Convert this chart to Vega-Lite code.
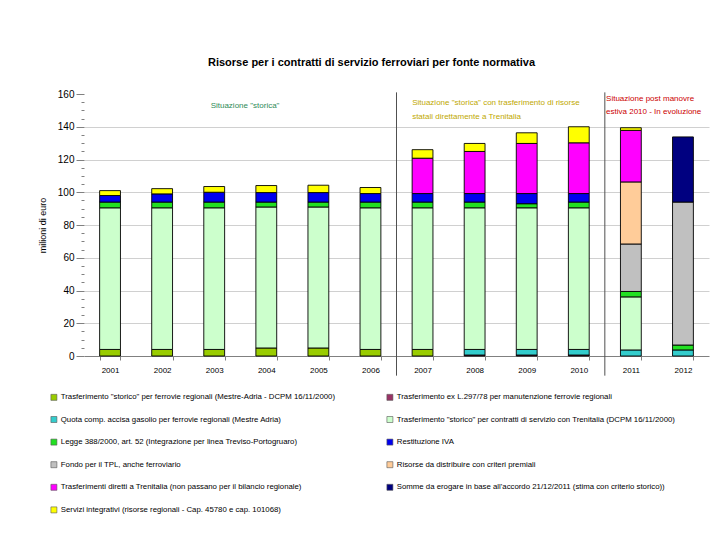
{
  "$schema": "https://vega.github.io/schema/vega-lite/v6.json",
  "autosize": "none",
  "width": 625,
  "height": 262,
  "padding": {"left": 84, "top": 94, "right": 11, "bottom": 184},
  "background": "white",
  "config": {
    "font": "Liberation Sans",
    "view": {"stroke": null}
  },
  "title": {
    "text": "Risorse per i contratti di servizio ferroviari per fonte normativa",
    "fontSize": 11,
    "fontWeight": "bold",
    "font": "Liberation Sans",
    "color": "black",
    "dx": -25,
    "offset": 21
  },
  "datasets": {
    "bars": [
      {"year": "2001", "serie": "s1", "value": 4},
      {"year": "2001", "serie": "s4", "value": 86.5},
      {"year": "2001", "serie": "s5", "value": 3.5},
      {"year": "2001", "serie": "s6", "value": 4},
      {"year": "2001", "serie": "s11", "value": 3},
      {"year": "2002", "serie": "s1", "value": 4},
      {"year": "2002", "serie": "s4", "value": 86.5},
      {"year": "2002", "serie": "s5", "value": 3.5},
      {"year": "2002", "serie": "s6", "value": 5},
      {"year": "2002", "serie": "s11", "value": 3.2},
      {"year": "2003", "serie": "s1", "value": 4},
      {"year": "2003", "serie": "s4", "value": 86.5},
      {"year": "2003", "serie": "s5", "value": 3.5},
      {"year": "2003", "serie": "s6", "value": 6},
      {"year": "2003", "serie": "s11", "value": 3.5},
      {"year": "2004", "serie": "s1", "value": 4.9},
      {"year": "2004", "serie": "s4", "value": 86.1},
      {"year": "2004", "serie": "s5", "value": 3},
      {"year": "2004", "serie": "s6", "value": 5.8},
      {"year": "2004", "serie": "s11", "value": 4.3},
      {"year": "2005", "serie": "s1", "value": 4.9},
      {"year": "2005", "serie": "s4", "value": 86.1},
      {"year": "2005", "serie": "s5", "value": 3},
      {"year": "2005", "serie": "s6", "value": 5.8},
      {"year": "2005", "serie": "s11", "value": 4.5},
      {"year": "2006", "serie": "s1", "value": 4},
      {"year": "2006", "serie": "s4", "value": 86.5},
      {"year": "2006", "serie": "s5", "value": 3.5},
      {"year": "2006", "serie": "s6", "value": 5.2},
      {"year": "2006", "serie": "s11", "value": 3.7},
      {"year": "2007", "serie": "s1", "value": 4},
      {"year": "2007", "serie": "s4", "value": 86.5},
      {"year": "2007", "serie": "s5", "value": 3.5},
      {"year": "2007", "serie": "s6", "value": 5.2},
      {"year": "2007", "serie": "s9", "value": 21.6},
      {"year": "2007", "serie": "s11", "value": 5.2},
      {"year": "2008", "serie": "s2", "value": 0.6},
      {"year": "2008", "serie": "s3", "value": 3.4},
      {"year": "2008", "serie": "s4", "value": 86.5},
      {"year": "2008", "serie": "s5", "value": 3.5},
      {"year": "2008", "serie": "s6", "value": 5.2},
      {"year": "2008", "serie": "s9", "value": 25.7},
      {"year": "2008", "serie": "s11", "value": 4.9},
      {"year": "2009", "serie": "s2", "value": 0.6},
      {"year": "2009", "serie": "s3", "value": 3.4},
      {"year": "2009", "serie": "s4", "value": 86.5},
      {"year": "2009", "serie": "s5", "value": 2.5},
      {"year": "2009", "serie": "s6", "value": 6.2},
      {"year": "2009", "serie": "s9", "value": 30.6},
      {"year": "2009", "serie": "s11", "value": 6.5},
      {"year": "2010", "serie": "s2", "value": 0.6},
      {"year": "2010", "serie": "s3", "value": 3.4},
      {"year": "2010", "serie": "s4", "value": 86.5},
      {"year": "2010", "serie": "s5", "value": 3.5},
      {"year": "2010", "serie": "s6", "value": 5.2},
      {"year": "2010", "serie": "s9", "value": 31},
      {"year": "2010", "serie": "s11", "value": 9.8},
      {"year": "2011", "serie": "s3", "value": 3.7},
      {"year": "2011", "serie": "s4", "value": 32.4},
      {"year": "2011", "serie": "s5", "value": 3.3},
      {"year": "2011", "serie": "s7", "value": 29},
      {"year": "2011", "serie": "s8", "value": 37.9},
      {"year": "2011", "serie": "s9", "value": 31.5},
      {"year": "2011", "serie": "s11", "value": 1.6},
      {"year": "2012", "serie": "s3", "value": 3.7},
      {"year": "2012", "serie": "s5", "value": 3},
      {"year": "2012", "serie": "s7", "value": 87.3},
      {"year": "2012", "serie": "s10", "value": 39.8}
    ],
    "labels": [
      {"serie": "s1", "rank": 1, "label": "Trasferimento \"storico\" per ferrovie regionali (Mestre-Adria - DCPM 16/11/2000)"},
      {"serie": "s2", "rank": 2, "label": "Trasferimento ex L.297/78 per manutenzione ferrovie regionali"},
      {"serie": "s3", "rank": 3, "label": "Quota comp. accisa gasolio per ferrovie regionali (Mestre Adria)"},
      {"serie": "s4", "rank": 4, "label": "Trasferimento \"storico\" per contratti di servizio con Trenitalia (DCPM 16/11/2000)"},
      {"serie": "s5", "rank": 5, "label": "Legge 388/2000, art. 52 (Integrazione per linea Treviso-Portogruaro)"},
      {"serie": "s6", "rank": 6, "label": "Restituzione IVA"},
      {"serie": "s7", "rank": 7, "label": "Fondo per il TPL, anche ferroviario"},
      {"serie": "s8", "rank": 8, "label": "Risorse da distribuire con criteri premiali"},
      {"serie": "s9", "rank": 9, "label": "Trasferimenti diretti a Trenitalia (non passano per il bilancio regionale)"},
      {"serie": "s10", "rank": 10, "label": "Somme da erogare in base all'accordo 21/12/2011 (stima con criterio storico))"},
      {"serie": "s11", "rank": 11, "label": "Servizi integrativi (risorse regionali - Cap. 45780 e cap. 101068)"}
    ]
  },
  "layer": [
    {
      "data": {"name": "bars"},
      "transform": [
        {"lookup": "serie", "from": {"data": {"name": "labels"}, "key": "serie", "fields": ["label", "rank"]}}
      ],
      "mark": {"type": "bar", "stroke": "black", "strokeWidth": 0.9},
      "encoding": {
        "x": {
          "field": "year",
          "type": "nominal",
          "scale": {
            "domain": ["2001","2002","2003","2004","2005","2006","2007","2008","2009","2010","2011","2012"],
            "paddingInner": 0.6,
            "paddingOuter": 0.3
          },
          "axis": {
            "title": null,
            "labelAngle": 0,
            "labelFontSize": 8,
            "labelColor": "black",
            "labelPadding": 6,
            "domainColor": "#808080",
            "tickColor": "#808080",
            "tickSize": 4,
            "tickBand": "extent"
          }
        },
        "y": {
          "field": "value",
          "type": "quantitative",
          "stack": "zero",
          "scale": {"domain": [0, 160], "nice": false},
          "axis": {
            "title": "milioni di euro",
            "titleFontSize": 9,
            "titleFontWeight": "normal",
            "titleColor": "black",
            "titlePadding": 10,
            "tickCount": 100,
            "values": [0,5,10,15,20,25,30,35,40,45,50,55,60,65,70,75,80,85,90,95,100,105,110,115,120,125,130,135,140,145,150,155,160],
            "labelExpr": "datum.value % 20 === 0 ? datum.label : ''",
            "labelOverlap": false,
            "labelFontSize": 10,
            "labelColor": "black",
            "labelPadding": 2,
            "domain": false,
            "tickColor": "#808080",
            "tickSize": {"condition": {"test": "datum.value % 20 === 0", "value": 8}, "value": 3},
            "grid": true,
            "gridColor": {"condition": {"test": "datum.value % 20 === 0 && datum.value > 0 && datum.value < 160", "value": "#D0D0D0"}, "value": "transparent"}
          }
        },
        "order": {"field": "rank", "type": "quantitative"},
        "color": {
          "field": "label",
          "type": "nominal",
          "scale": {
            "domain": [
              "Trasferimento \"storico\" per ferrovie regionali (Mestre-Adria - DCPM 16/11/2000)",
              "Trasferimento ex L.297/78 per manutenzione ferrovie regionali",
              "Quota comp. accisa gasolio per ferrovie regionali (Mestre Adria)",
              "Trasferimento \"storico\" per contratti di servizio con Trenitalia (DCPM 16/11/2000)",
              "Legge 388/2000, art. 52 (Integrazione per linea Treviso-Portogruaro)",
              "Restituzione IVA",
              "Fondo per il TPL, anche ferroviario",
              "Risorse da distribuire con criteri premiali",
              "Trasferimenti diretti a Trenitalia (non passano per il bilancio regionale)",
              "Somme da erogare in base all'accordo 21/12/2011 (stima con criterio storico))",
              "Servizi integrativi (risorse regionali - Cap. 45780 e cap. 101068)"
            ],
            "range": ["#99CC00", "#993366", "#33CCCC", "#CCFFCC", "#22E022", "#0000EE", "#C0C0C0", "#FFCC99", "#FF00FF", "#000080", "#FFFF00"]
          },
          "legend": {
            "title": null,
            "orient": "none",
            "legendX": -34,
            "legendY": 299,
            "columns": 2,
            "direction": "horizontal",
            "columnPadding": 50,
            "rowPadding": 12.6,
            "symbolType": "square",
            "symbolSize": 36,
            "symbolStrokeColor": "#555555",
            "symbolStrokeWidth": 0.6,
            "labelFontSize": 7.8,
            "labelColor": "black",
            "labelLimit": 400,
            "labelOffset": 3
          }
        }
      }
    },
    {
      "data": {"values": [{"year": "2007"}, {"year": "2011"}]},
      "mark": {"type": "rule", "color": "#505050", "strokeWidth": 1},
      "encoding": {
        "x": {"field": "year", "type": "nominal", "bandPosition": -0.75},
        "y": {"datum": 161},
        "y2": {"datum": -12}
      }
    },
    {
      "data": {"values": [{"year": "2004", "v": 152.5, "t": "Situazione \"storica\""}]},
      "mark": {"type": "text", "align": "center", "baseline": "middle", "fontSize": 8, "color": "#2E8B57"},
      "encoding": {
        "x": {"field": "year", "type": "nominal", "bandPosition": -0.52},
        "y": {"field": "v", "type": "quantitative"},
        "text": {"field": "t"}
      }
    },
    {
      "data": {"values": [
        {"year": "2007", "v": 154.6, "t": "Situazione \"storica\" con trasferimento di risorse"},
        {"year": "2007", "v": 146.2, "t": "statali direttamente a Trenitalia"}
      ]},
      "mark": {"type": "text", "align": "left", "baseline": "middle", "fontSize": 8, "color": "#C0A800"},
      "encoding": {
        "x": {"field": "year", "type": "nominal", "bandPosition": 0},
        "y": {"field": "v", "type": "quantitative"},
        "text": {"field": "t"}
      }
    },
    {
      "data": {"values": [
        {"year": "2011", "v": 156.8, "t": "Situazione post manovre"},
        {"year": "2011", "v": 148.8, "t": "estiva 2010 - In evoluzione"}
      ]},
      "mark": {"type": "text", "align": "left", "baseline": "middle", "fontSize": 8, "color": "#CC0000"},
      "encoding": {
        "x": {"field": "year", "type": "nominal", "bandPosition": -0.69},
        "y": {"field": "v", "type": "quantitative"},
        "text": {"field": "t"}
      }
    }
  ]
}
